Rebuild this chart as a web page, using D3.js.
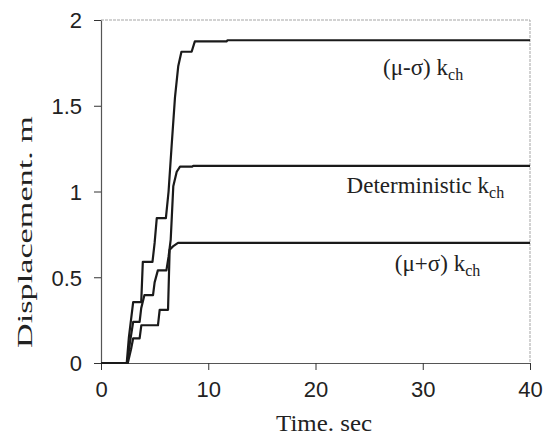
<!DOCTYPE html>
<html>
<head>
<meta charset="utf-8">
<script src="https://cdn.jsdelivr.net/npm/d3@7"></script>
<style>
  body { margin: 0; background: #fff; }
</style>
</head>
<body>
<script>
const [width, height] = [547, 437]
const margin = {top: 20, right: 17, bottom: 74, left: 101}

// time histories (time in s, displacement in m)
const timeMinus = [0, 2.4, 2.6, 3.0, 3.75, 3.9, 4.8, 5.0, 5.2, 6.05, 6.3, 6.6, 6.9, 7.2, 7.5, 8.45, 8.75, 11.7, 11.8, 40]
const dispMinus = [0, 0, 0.15, 0.355, 0.355, 0.59, 0.59, 0.7, 0.845, 0.845, 1.0, 1.28, 1.55, 1.73, 1.815, 1.815, 1.875, 1.875, 1.882, 1.882]

const timeDet = [0, 2.45, 2.7, 3.0, 3.6, 3.75, 4.05, 4.85, 5.0, 5.3, 6.1, 6.3, 6.5, 6.74, 7.06, 7.37, 8.5, 8.6, 40]
const dispDet = [0, 0, 0.12, 0.24, 0.24, 0.32, 0.396, 0.396, 0.47, 0.54, 0.54, 0.62, 0.72, 1.03, 1.115, 1.145, 1.145, 1.15, 1.15]

const timePlus = [0, 2.5, 2.8, 3.0, 3.6, 3.76, 5.31, 5.47, 6.25, 6.4, 6.71, 7.18, 40]
const dispPlus = [0, 0, 0.08, 0.144, 0.144, 0.22, 0.22, 0.31, 0.31, 0.66, 0.68, 0.70, 0.70]

const xTicks = [0, 10, 20, 30, 40]
const yTicks = [0, 0.5, 1, 1.5, 2]

// label text + anchor point in data units
const labels = [
  {pre: "(\u03bc-\u03c3) k", sub: "ch", t: 26.3, d: 1.68},
  {pre: "Deterministic k", sub: "ch", t: 22.9, d: 0.99},
  {pre: "(\u03bc+\u03c3) k", sub: "ch", t: 27.4, d: 0.536}
]

const svg = d3.select('body')
  .append('svg')
  .attr("width", width)
  .attr("height", height)

const x = d3.scaleLinear().domain([0, 40]).range([margin.left, width - margin.right])
const y = d3.scaleLinear().domain([0, 2]).range([height - margin.bottom, margin.top])

// top and right frame, light dashed
svg.append("path")
  .attr("d", `M${x(0)},${y(2)}H${x(40)}V${y(0)}`)
  .attr("fill", "none")
  .attr("stroke", "#a5a5a5")
  .attr("stroke-width", 1)
  .attr("stroke-dasharray", "3,1")

// axes
const xAxis = svg.append("g")
  .attr("transform", `translate(0,${y(0)})`)
  .call(d3.axisBottom(x).tickValues(xTicks).tickFormat(d => d).tickSize(7).tickSizeOuter(0).tickPadding(9))
const yAxis = svg.append("g")
  .attr("transform", `translate(${x(0)},0)`)
  .call(d3.axisLeft(y).tickValues(yTicks).tickFormat(d => d).tickSize(7).tickSizeOuter(0).tickPadding(12))

for (const g of [xAxis, yAxis]) {
  g.select(".domain").attr("stroke", "#555").attr("stroke-width", 1.2)
  g.selectAll(".tick line").attr("stroke", "#333")
  g.selectAll(".tick text")
    .attr("font-family", "'Liberation Sans', Arial, sans-serif")
    .attr("font-size", "22px")
    .attr("fill", "#222")
}
xAxis.selectAll(".tick text").attr("dy", "0.8em")
yAxis.selectAll(".tick text").attr("dy", "0.36em")

// curves
const line = d3.line()
  .x(d => x(d[0]))
  .y(d => y(d[1]))

const series = [
  d3.zip(timeMinus, dispMinus),
  d3.zip(timeDet, dispDet),
  d3.zip(timePlus, dispPlus)
]

svg.selectAll("path.curve")
  .data(series)
  .enter()
  .append("path")
    .attr("class", "curve")
    .attr("d", line)
    .attr("fill", "none")
    .attr("stroke", "#1a1a1a")
    .attr("stroke-width", 2.2)
    .attr("stroke-linejoin", "round")

// curve labels with subscript
const lab = svg.selectAll("text.lab")
  .data(labels)
  .enter()
  .append("text")
    .attr("class", "lab")
    .attr("x", d => x(d.t))
    .attr("y", d => y(d.d))
    .attr("font-family", "'Liberation Serif', 'Times New Roman', serif")
    .attr("font-size", "23px")
    .attr("fill", "#222")
lab.append("tspan").text(d => d.pre)
lab.append("tspan").text(d => d.sub).attr("font-size", "16px").attr("dy", 5)

// axis titles
svg.append("text")
  .text("Time. sec")
  .attr("x", x(20.8))
  .attr("y", 431)
  .attr("text-anchor", "middle")
  .attr("textLength", 96)
  .attr("lengthAdjust", "spacingAndGlyphs")
  .attr("font-family", "'Liberation Serif', 'Times New Roman', serif")
  .attr("font-size", "23px")
  .attr("fill", "#222")

svg.append("text")
  .text("Displacement. m")
  .attr("transform", `translate(32,232) rotate(-90)`)
  .attr("text-anchor", "middle")
  .attr("textLength", 232)
  .attr("lengthAdjust", "spacingAndGlyphs")
  .attr("font-family", "'Liberation Serif', 'Times New Roman', serif")
  .attr("font-size", "22px")
  .attr("fill", "#222")
</script>
</body>
</html>
